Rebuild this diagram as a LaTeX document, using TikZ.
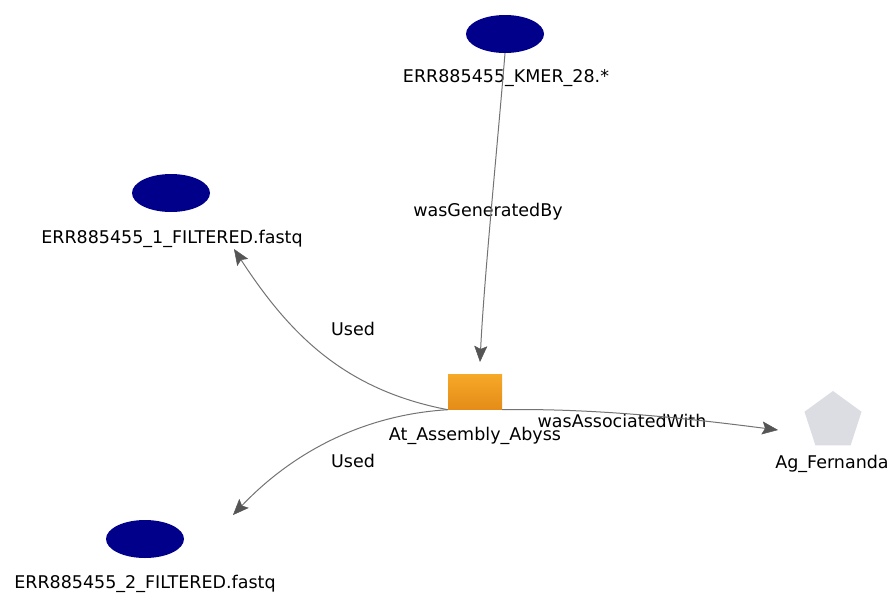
\documentclass[tikz,border=0pt]{standalone}
\usepackage{fontspec}
\setmainfont{DejaVu Sans}
\usetikzlibrary{shapes.geometric,arrows.meta}
\definecolor{navy}{RGB}{0,0,139}
\definecolor{actTop}{RGB}{246,168,40}
\definecolor{actBot}{RGB}{228,140,24}
\definecolor{agentGray}{RGB}{220,221,226}
\definecolor{edgeGray}{RGB}{115,115,115}
\definecolor{tipGray}{RGB}{85,85,85}

\begin{document}
\begin{tikzpicture}[x=1pt,y=-1pt,
 every node/.style={font=\fontsize{17.5}{20}\selectfont},
 entity/.style={ellipse,fill=navy,minimum width=78pt,minimum height=38pt,inner sep=0pt},
 activity/.style={rectangle,top color=actTop,bottom color=actBot,minimum width=54pt,minimum height=35pt,inner sep=0pt},
 agent/.style={regular polygon,regular polygon sides=5,fill=agentGray,minimum size=60pt,inner sep=0pt},
 lbl/.style={anchor=base,inner sep=0pt},
 rel/.style={draw=edgeGray,line width=1pt,-{Stealth[length=16pt,width=13pt,inset=3pt,line width=0.5pt,color=tipGray,fill=tipGray]}}]
\useasboundingbox (0,0) rectangle (893,592);
\node[entity] (kmer) at (505,34) {};
\node[lbl] (kmertxt) at (506,82) {ERR885455\_KMER\_28.*};
\node[entity] (fq1) at (171,193) {};
\node[lbl] (fq1txt) at (172,243) {ERR885455\_1\_FILTERED.fastq};
\node[entity] (fq2) at (145,539) {};
\node[lbl] (fq2txt) at (145,588) {ERR885455\_2\_FILTERED.fastq};
\node[activity] (act) at (475,392) {};
\node[lbl] (acttxt) at (475,440) {At\_Assembly\_Abyss};
\node[agent] (ag) at (833,421) {};
\node[lbl] (agtxt) at (832,468) {Ag\_Fernanda};
% edge labels
\node[lbl] (genlbl) at (488,216) {wasGeneratedBy};
\node[lbl] (used1lbl) at (353,335) {Used};
\node[lbl] (used2lbl) at (353,467) {Used};
\node[lbl] (assoclbl) at (622,427) {wasAssociatedWith};
% arrow tips stop short of the targets
\coordinate (actin) at (480,362);
\coordinate (fq1in) at (234,249);
\coordinate (fq2in) at (233,515);
\coordinate (agin) at (778,430);
\draw[rel] (kmer.south) .. controls (497,150) and (484,280) .. (actin);
\draw[rel] (act.south west) .. controls (345,390) and (290,335) .. (fq1in);
\draw[rel] (act.south west) .. controls (360,415) and (290,455) .. (fq2in);
\draw[rel] (act.south east) .. controls (600,408) and (700,420) .. (agin);
\end{tikzpicture}
\end{document}
